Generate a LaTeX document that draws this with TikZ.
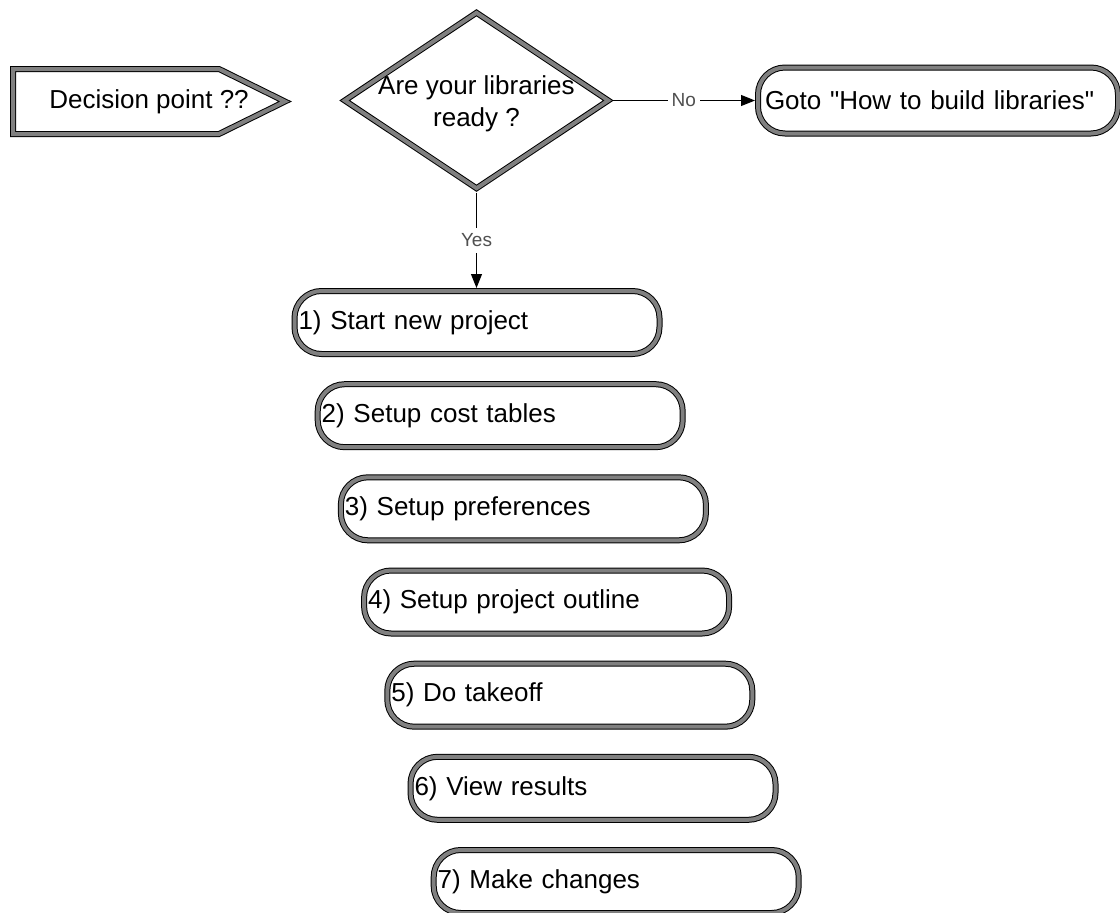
\documentclass[tikz,border=0pt]{standalone}
\usepackage{fontspec}
\setmainfont{Liberation Sans}
\usepackage{tikz}
\definecolor{borderGray}{RGB}{128, 128, 128}
\definecolor{labelGray}{RGB}{80, 80, 80}
\usetikzlibrary{shapes.geometric, arrows.meta, positioning}

\tikzset{
    thickborder/.style={draw=black, line width=1pt, double=borderGray, double distance=4pt},
    stepbox/.style={
        thickborder,
        rectangle,
        rounded corners=27pt,
        minimum width=365pt,
        minimum height=63pt,
        text width=357pt,
        inner xsep=4pt,
        outer sep=3pt,
        align=left,
        font=\fontsize{26}{32}\selectfont
    },
    flowline/.style={draw=black, line width=1pt, -{Triangle[length=14pt, width=11pt]}},
    branchlabel/.style={fill=white, text=labelGray, inner xsep=4pt, inner ysep=6pt, font=\fontsize{19}{22}\selectfont}
}

\begin{document}
\begin{tikzpicture}[x=1pt, y=-1pt]
    \useasboundingbox (0,0) rectangle (1120,913);

    % the pointed marker on the left
    \draw[thickborder] (13,69) -- (219,69) -- (285,101.5) -- (219,134) -- (13,134) -- cycle;
    \node[font=\fontsize{26}{32}\selectfont, inner sep=0pt] (marker) at (149,102) {Decision point ??};

    \node[
        thickborder,
        diamond,
        minimum width=266pt,
        minimum height=178pt,
        inner sep=0pt,
        outer sep=3pt,
        label={[name=readytext, align=center, yshift=-3pt, font=\fontsize{26}{32}\selectfont]center:Are your libraries\\ready ?}
    ] (ready) at (476.5,100.5) {};

    \node[stepbox, minimum width=360pt, minimum height=66pt, text width=346pt, inner xsep=7pt] (buildlibs) at (938,100.5) {Goto \textquotedbl How to build libraries\textquotedbl};

    \node[stepbox] (step1) at (477.0,322.5) {1) Start new project};
    \node[stepbox] (step2) at (500.2,415.7) {2) Setup cost tables};
    \node[stepbox] (step3) at (523.4,508.8) {3) Setup preferences};
    \node[stepbox] (step4) at (546.6,602.0) {4) Setup project outline};
    \node[stepbox] (step5) at (569.8,695.2) {5) Do takeoff};
    \node[stepbox] (step6) at (593.0,788.3) {6) View results};
    \node[stepbox] (step7) at (616.2,881.5) {7) Make changes};

    \draw[flowline] (ready.east) -- node[branchlabel] (nolabel) {No} (buildlibs.west);
    \draw[flowline] (ready.south) -- node[branchlabel] (yeslabel) {Yes} (ready.south |- step1.north);
\end{tikzpicture}
\end{document}
